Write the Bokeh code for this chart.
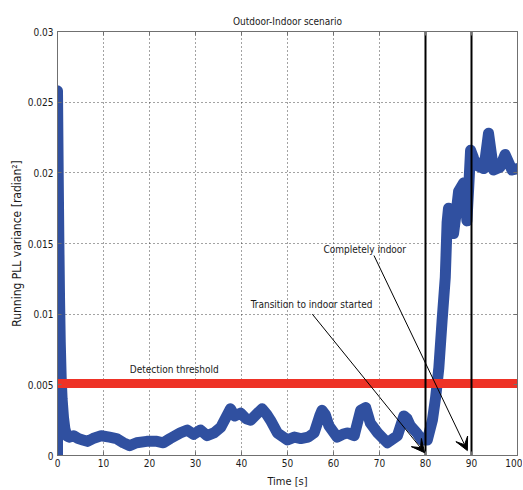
from bokeh.plotting import figure
from bokeh.models import LinearAxis, Range1d, FixedTicker, Arrow, VeeHead, Label
from bokeh.embed import file_html
from bokeh.resources import INLINE

# ---------------- data ----------------
time_s = [0, 0, 0.15, 0.3, 0.45, 0.6, 0.8, 1.0, 1.3, 1.6, 2.0, 2.5, 3.5, 4.5, 5.5, 6.5,
          7.7, 9.5, 11.3, 12.8, 14.3, 15.7, 17.2, 19.4, 21.6, 23.0, 24.5, 26.7, 28.2,
          29.6, 31.1, 32.5, 34.0, 35.5, 37.6, 38.5, 39.8, 41.0, 42.0, 43.5, 44.5, 45.5,
          46.3, 47.8, 50.0, 51.5, 52.9, 54.5, 55.8, 57.0, 57.5, 58.2, 59.0, 60.8, 62.0,
          63.0, 64.5, 65.9, 67.0, 68.0, 69.6, 71.7, 73.9, 75.3, 76.0, 76.7, 78.1, 79.2,
          80.4, 81.5, 82.2, 82.9, 83.6, 84.3, 84.7, 85.0, 85.5, 86.1, 86.6, 87.2, 88.3,
          89.0, 89.4, 89.8, 90.5, 91.3, 92.7, 93.7, 94.8, 96.2, 97.3, 98.8, 100]
variance = [0, 0.0258, 0.020, 0.015, 0.011, 0.008, 0.0055, 0.004, 0.0027, 0.0019, 0.0014,
            0.0013, 0.0014, 0.0012, 0.0011, 0.0010, 0.0012, 0.0014, 0.0013, 0.0012, 0.0009,
            0.0007, 0.0009, 0.0010, 0.0010, 0.0009, 0.0012, 0.0016, 0.0018, 0.0015, 0.0018,
            0.0014, 0.0016, 0.0020, 0.0033, 0.0028, 0.0030, 0.0026, 0.0025, 0.0030, 0.0033,
            0.0029, 0.0025, 0.0016, 0.0011, 0.0013, 0.0012, 0.0013, 0.0016, 0.0028, 0.0032,
            0.0029, 0.0021, 0.0013, 0.0015, 0.0016, 0.0014, 0.0032, 0.0034, 0.0023, 0.0016,
            0.0009, 0.0014, 0.0028, 0.0026, 0.0021, 0.0016, 0.0011, 0.0011, 0.0025, 0.0041,
            0.0062, 0.0095, 0.0126, 0.0165, 0.0175, 0.0170, 0.0157, 0.0170, 0.0187, 0.0193,
            0.0166, 0.0190, 0.0216, 0.0210, 0.0205, 0.0203, 0.0228, 0.0202, 0.0204, 0.0213,
            0.0202, 0.0203]

marker_time = [0] * 18
marker_values = [0, 0.0008, 0.0025, 0.0033, 0.0150, 0.0160, 0.0170, 0.0180, 0.0190,
                 0.0200, 0.0210, 0.0220, 0.0230, 0.0240, 0.0245, 0.0250, 0.0255, 0.0258]

threshold_time = [0, 100]
threshold_value = [0.0051, 0.0051]

event_times = [80, 90]

x_ticks = [0, 10, 20, 30, 40, 50, 60, 70, 80, 90, 100]
y_ticks = [0, 0.005, 0.01, 0.015, 0.02, 0.025, 0.03]
y_tick_labels = ["0", "0.005", "0.01", "0.015", "0.02", "0.025", "0.03"]

title_text = "Outdoor-Indoor scenario"
x_label = "Time [s]"
y_label = "Running PLL variance [radian\u00b2]"

annotations = [
    # text, text x, text y, arrow start (x, y), arrow end (x, y)
    ("Transition to indoor started", 42.0, 0.0107, 55.4, 0.0100, 79.8, 0.0002),
    ("Completely indoor", 57.8, 0.01455, 68.8, 0.01415, 89.1, 0.00035),
]
threshold_label = ("Detection threshold", 15.7, 0.0061)

FONT = "'DejaVu Sans Condensed', 'Liberation Sans', sans-serif"
FS = "10px"
BLUE = "#3050a0"
RED = "#ee3226"
TXT = "#1a1a1a"

p = figure(frame_width=460, frame_height=424, output_backend="svg", toolbar_location=None,
           x_range=Range1d(0, 100), y_range=Range1d(0, 0.03),
           min_border_left=57, min_border_right=5, min_border_top=31, min_border_bottom=34)

p.title.text = title_text
p.title.align = "center"
p.title.text_font = FONT
p.title.text_font_size = "10px"
p.title.text_font_style = "normal"
p.title.text_color = TXT
p.title.standoff = 10

p.outline_line_color = "#707070"

for ax in [p.xaxis[0], p.yaxis[0]]:
    ax.major_tick_in = 4
    ax.major_tick_out = 0
    ax.minor_tick_line_color = None
    ax.axis_line_color = "#707070"
    ax.major_tick_line_color = "#707070"
    ax.major_label_text_font = FONT
    ax.major_label_text_font_size = FS
    ax.major_label_text_color = TXT
    ax.axis_label_text_font = FONT
    ax.axis_label_text_font_style = "normal"
    ax.axis_label_text_color = TXT

p.xaxis[0].ticker = FixedTicker(ticks=x_ticks)
p.yaxis[0].ticker = FixedTicker(ticks=y_ticks)
p.yaxis[0].major_label_overrides = {t: l for t, l in zip(y_ticks, y_tick_labels)}
p.xaxis[0].axis_label = x_label
p.yaxis[0].axis_label = y_label
p.xaxis[0].axis_label_text_font_size = "11px"
p.yaxis[0].axis_label_text_font_size = "12px"
p.xaxis[0].major_label_standoff = 3
p.xaxis[0].axis_label_standoff = 5
p.yaxis[0].major_label_standoff = 4
p.yaxis[0].axis_label_standoff = 1

for axis_loc, ticks in [("right", y_ticks), ("above", x_ticks)]:
    ax = LinearAxis(ticker=FixedTicker(ticks=ticks), major_tick_in=4, major_tick_out=0,
                    minor_tick_line_color=None, major_label_text_font_size="1px",
                    major_label_text_color=None,
                    major_label_standoff=0, axis_line_color="#707070",
                    major_tick_line_color="#707070")
    p.add_layout(ax, axis_loc)

p.grid.grid_line_color = "#333333"
p.grid.grid_line_dash = "1 3"
p.grid.grid_line_alpha = 0.9
p.xgrid.ticker = FixedTicker(ticks=x_ticks)
p.ygrid.ticker = FixedTicker(ticks=y_ticks)

# data curve
p.line(time_s, variance, line_color=BLUE, line_width=11, line_join="round", line_cap="round")
p.scatter(marker_time, marker_values, marker="cross", size=7, line_color=BLUE, line_width=2)

# threshold
p.line(threshold_time, threshold_value, line_color=RED, line_width=9)

# event lines
for t in event_times:
    p.line([t, t], [0, 0.03], line_color="black", line_width=2)

# annotations
for text, tx, ty, ax0, ay0, ax1, ay1 in annotations:
    p.add_layout(Label(x=tx, y=ty, text=text, text_font=FONT, text_font_size="10px",
                       text_baseline="middle", text_color=TXT))
    p.add_layout(Arrow(x_start=ax0, y_start=ay0, x_end=ax1, y_end=ay1, line_width=1,
                       line_color="black",
                       end=VeeHead(size=13, fill_color="black", line_color="black")))

p.add_layout(Label(x=threshold_label[1], y=threshold_label[2], text=threshold_label[0],
                   text_font=FONT, text_font_size="10px", text_baseline="middle",
                   text_color=TXT))

open("out.html", "w").write(file_html(p, INLINE))
